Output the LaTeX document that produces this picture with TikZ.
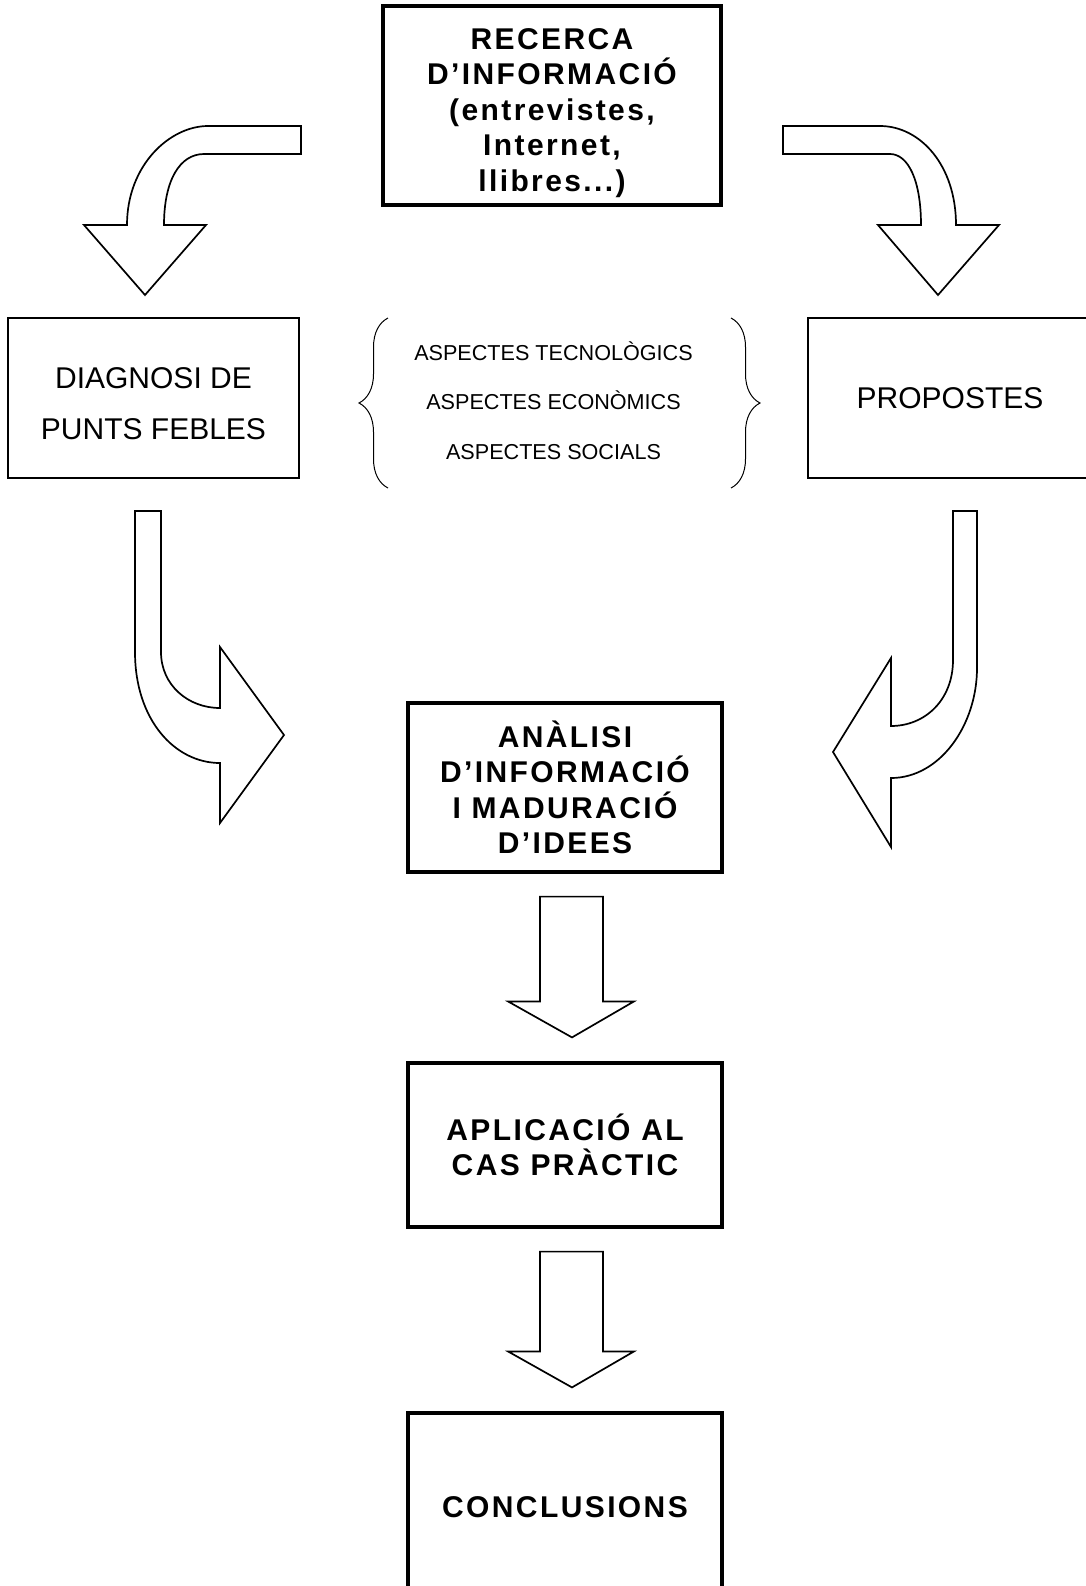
\documentclass[tikz,border=0pt]{standalone}
\usepackage{fontspec}
\setmainfont{Liberation Sans}
\newfontfamily\spacedfont[LetterSpace=8]{Liberation Sans}
\usetikzlibrary{calc,decorations.pathreplacing}

\tikzset{
	framebox/.style={draw, line width=1.6pt, inner sep=0pt, align=center,
		font=\spacedfont\bfseries\fontsize{15}{17.75}\selectfont},
	plainbox/.style={draw, line width=1pt, inner sep=0pt, align=center,
		font=\fontsize{15}{25.5}\selectfont},
	bentarrow/.style={draw, line width=0.85pt, line join=miter},
	bracket/.style={draw, line width=0.5pt, decorate, decoration={brace, amplitude=14.5pt}}
}

\begin{document}
\begin{tikzpicture}[x=0.5pt, y=-0.5pt]
	\fill[white] (0,0) rectangle (1086,1586);
	\path[use as bounding box, clip] (0,0) rectangle (1086,1586);

	\node[framebox, minimum width=169pt, minimum height=99.5pt] (recerca) at (552,105.5)
		{\rule{0pt}{17.8pt}RECERCA\\D’INFORMACIÓ\\(entrevistes,\\Internet,\\llibres...)};
	\node[plainbox, minimum width=145.5pt, minimum height=80pt] (diagnosi) at (153.5,398)
		{\rule{0pt}{16.3pt}DIAGNOSI DE\\PUNTS FEBLES};
	\node[inner sep=0pt, align=center, font=\fontsize{10.8}{24.75}\selectfont] (aspectes) at (553.5,400.5)
		{ASPECTES TECNOLÒGICS\\ASPECTES ECONÒMICS\\ASPECTES SOCIALS};
	\node[plainbox, minimum width=142pt, minimum height=80pt] (propostes) at (950,398)
		{PROPOSTES};
	\node[framebox, minimum width=157pt, minimum height=84.5pt] (analisi) at (565,787.5)
		{ANÀLISI\\D’INFORMACIÓ\\I MADURACIÓ\\D’IDEES};
	\node[framebox, minimum width=157pt, minimum height=82pt] (aplicacio) at (565,1145)
		{APLICACIÓ AL\\CAS PRÀCTIC};
	\node[framebox, minimum width=157pt, minimum height=94pt] (conclusions) at (565,1507)
		{CONCLUSIONS};

	\draw[bracket] ($(aspectes.center)+(-165.5,87.5)$) -- ($(aspectes.center)+(-165.5,-82.5)$);
	\draw[bracket] ($(aspectes.center)+(177.5,-82.5)$) -- ($(aspectes.center)+(177.5,87.5)$);

	% fletxes corbes
	\draw[bentarrow] (301,126) -- (208,126) .. controls (170,126) and (127,165) .. (127,225)
		-- (84,225) -- (145,295) -- (206,225) -- (164,225)
		.. controls (164,180) and (180,154) .. (204,154) -- (301,154) -- cycle;
	\draw[bentarrow] (783,126) -- (880,126) .. controls (920,126) and (956,165) .. (956,225)
		-- (999,225) -- (938,295) -- (878,225) -- (921,225)
		.. controls (921,180) and (908,154) .. (890,154) -- (783,154) -- cycle;
	\draw[bentarrow] (135,511) -- (161,511) -- (161,652) .. controls (161,685) and (188,708) .. (220,708)
		-- (220,647) -- (284,735) -- (220,823) -- (220,763)
		.. controls (175,763) and (135,720) .. (135,652) -- cycle;
	\draw[bentarrow] (953,511) -- (977,511) -- (977,668) .. controls (977,725) and (940,778) .. (891,778)
		-- (891,847) -- (833,752) -- (891,658) -- (891,726)
		.. controls (925,726) and (953,700) .. (953,660) -- cycle;

	% fletxes rectes
	\foreach \from/\to in {analisi/aplicacio, aplicacio/conclusions}
		\draw[bentarrow] ($(\from.south)+(-25,23)$) -- ($(\from.south)+(38,23)$)
			-- ($(\to.north)+(38,-60)$) -- ($(\to.north)+(69,-60)$) -- ($(\to.north)+(7,-24)$)
			-- ($(\to.north)+(-57,-60)$) -- ($(\to.north)+(-25,-60)$) -- cycle;
\end{tikzpicture}
\end{document}
